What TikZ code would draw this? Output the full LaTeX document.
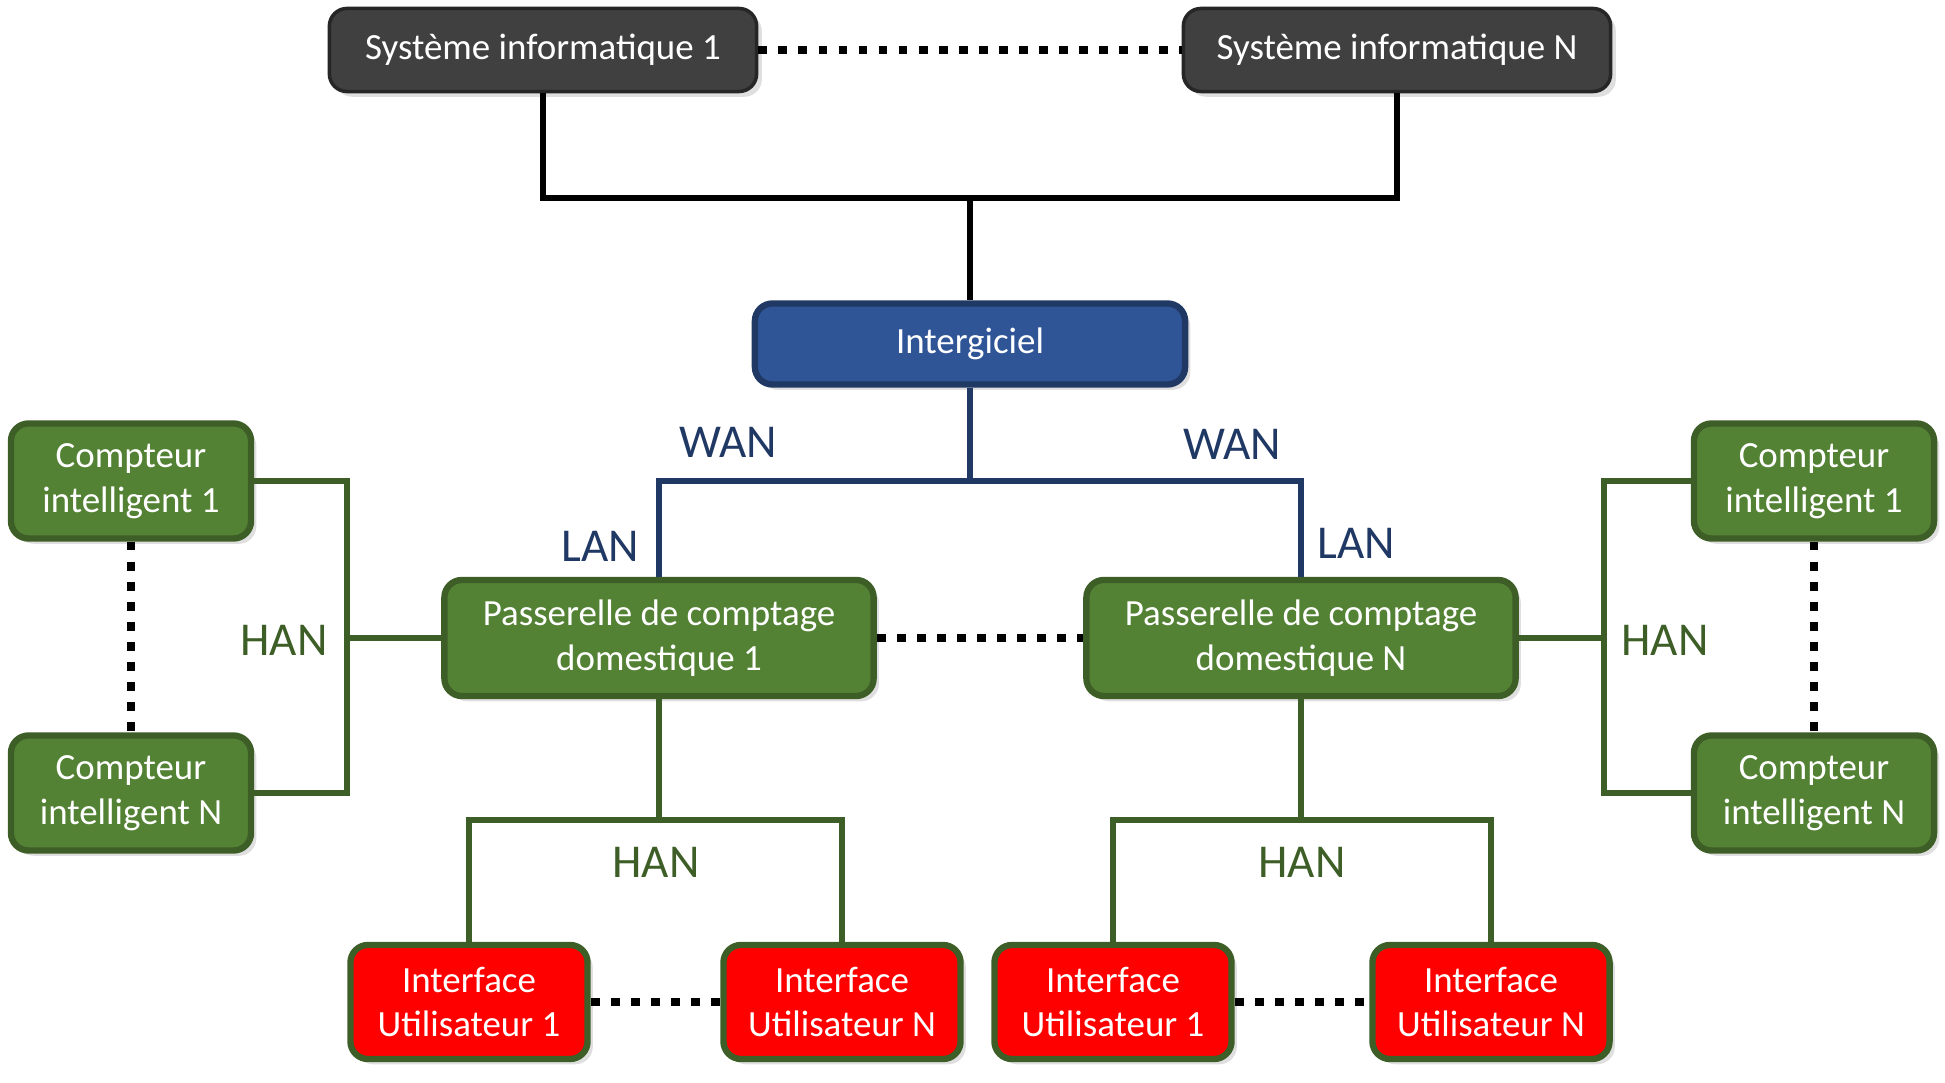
\documentclass[tikz,border=0pt]{standalone}
\usepackage{fontspec}
\setmainfont{Carlito}
\usepackage{tikz}
\usetikzlibrary{positioning,calc,shadows}

\definecolor{sysgray}{HTML}{404040}
\definecolor{sysedge}{HTML}{262626}
\definecolor{mwblue}{HTML}{2F5597}
\definecolor{wanblue}{HTML}{203864}
\definecolor{gwgreen}{HTML}{548235}
\definecolor{hangreen}{HTML}{3D5E26}
\definecolor{uired}{HTML}{FF0000}

\tikzset{
  box/.style={rounded corners=5pt, text=white, align=center,
    font=\fontsize{10.5}{12.7}\selectfont,
    drop shadow={opacity=0.25, shadow xshift=1.5pt, shadow yshift=-1.5pt}},
  sysbox/.style={box, fill=sysgray, draw=sysedge, line width=1pt,
    minimum width=4.27cm, minimum height=0.83cm},
  mwbox/.style={box, fill=mwblue, draw=wanblue, line width=1.8pt,
    minimum width=4.3cm, minimum height=0.81cm},
  gwbox/.style={box, fill=gwgreen, draw=hangreen, line width=1.8pt,
    minimum width=4.29cm, minimum height=1.16cm},
  meterbox/.style={box, fill=gwgreen, draw=hangreen, line width=1.8pt,
    minimum width=2.4cm, minimum height=1.15cm},
  uibox/.style={box, fill=uired, draw=hangreen, line width=1.8pt,
    minimum width=2.37cm, minimum height=1.14cm},
  blackline/.style={draw=black, line width=1.8pt},
  blueline/.style={draw=wanblue, line width=1.6pt},
  greenline/.style={draw=hangreen, line width=1.6pt},
  dots/.style={draw=black, line width=2.5pt, dash pattern=on 2.5pt off 3.2pt},
  lbl/.style={font=\fontsize{13.4}{15}\selectfont},
}

\begin{document}
\begin{tikzpicture}[x=0.01cm, y=-0.01cm]
\useasboundingbox (0,0) rectangle (1945,1083);

% boites
\node[sysbox] (sys1) at (543,50) {Système informatique 1};
\node[sysbox] (sysN) at (1397,50) {Système informatique N};
\node[mwbox] (mw) at (970,344) {Intergiciel};
\node[gwbox] (gw1) at (659,638) {Passerelle de comptage\\domestique 1};
\node[gwbox] (gwN) at (1301,638) {Passerelle de comptage\\domestique N};
\node[meterbox] (mL1) at (131,481) {Compteur\\intelligent 1};
\node[meterbox] (mLN) at (131,793) {Compteur\\intelligent N};
\node[meterbox] (mR1) at (1814,481) {Compteur\\intelligent 1};
\node[meterbox] (mRN) at (1814,793) {Compteur\\intelligent N};
\foreach \n/\x/\k in {uiA1/469/1,uiAN/842/N,uiB1/1113/1,uiBN/1491/N} {
  \node[uibox] (\n) at (\x,1002) {Interface\\Utilisateur \k};
}

% points de jonction
\coordinate (topjoin) at (970,198);
\coordinate (wanjoin) at (970,481);
\coordinate (hanL) at (347,638);
\coordinate (hanR) at (1604,638);
\coordinate (hanA) at (659,820);
\coordinate (hanB) at (1301,820);

% liaisons
\draw[blackline] (sys1.south) |- (topjoin) -| (sysN.south);
\draw[blackline] (topjoin) -- (mw.north);
\draw[blueline] (mw.south) -- (wanjoin);
\draw[blueline] (gw1.north) |- (wanjoin) -| (gwN.north);
\draw[greenline] (mL1.east) -| (hanL) |- (mLN.east);
\draw[greenline] (hanL) -- (gw1.west);
\draw[greenline] (mR1.west) -| (hanR) |- (mRN.west);
\draw[greenline] (hanR) -- (gwN.east);
\draw[greenline] (gw1.south) -- (hanA);
\draw[greenline] (uiA1.north) |- (hanA) -| (uiAN.north);
\draw[greenline] (gwN.south) -- (hanB);
\draw[greenline] (uiB1.north) |- (hanB) -| (uiBN.north);

% pointilles
\draw[dots] (sys1) -- (sysN);
\draw[dots] (gw1) -- (gwN);
\draw[dots] (mL1) -- (mLN);
\draw[dots] (mR1) -- (mRN);
\draw[dots] (uiA1) -- (uiAN);
\draw[dots] (uiB1) -- (uiBN);

% etiquettes
\node[lbl, text=wanblue] (wanL) at (728,442) {WAN};
\node[lbl, text=wanblue] (wanR) at (1232,444) {WAN};
\node[lbl, text=wanblue] (lanL) at (600,546) {LAN};
\node[lbl, text=wanblue] (lanR) at (1356,543) {LAN};
\node[lbl, text=hangreen] (hanLl) at (284,640) {HAN};
\node[lbl, text=hangreen] (hanRl) at (1665,640) {HAN};
\node[lbl, text=hangreen] (hanAl) at (656,862) {HAN};
\node[lbl, text=hangreen] (hanBl) at (1302,862) {HAN};
\end{tikzpicture}
\end{document}
